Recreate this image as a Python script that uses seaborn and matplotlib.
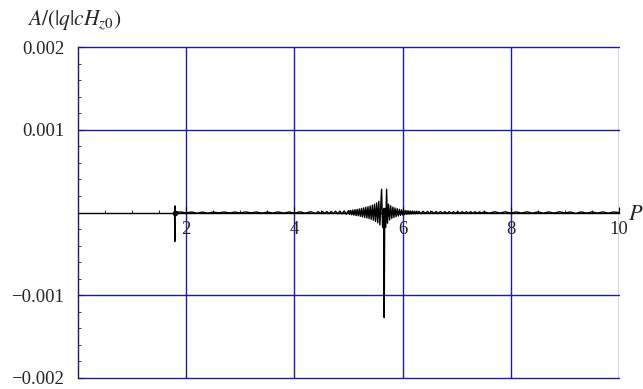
import numpy as np
import pandas as pd
import matplotlib
matplotlib.use("Agg")
import matplotlib.pyplot as plt
from matplotlib.ticker import MultipleLocator
import seaborn as sns

# ---- data (y values in units of 1e-4) ----
x_a = [1.785, 1.790, 1.792, 1.800, 1.9, 2.0, 2.1, 2.2, 2.3, 2.4, 2.5, 2.6, 2.7, 2.8,
       2.9, 3.0, 3.1, 3.2, 3.3, 3.4, 3.5, 3.6, 3.7, 3.8, 3.9, 4.0, 4.1, 4.2, 4.3, 4.4]
y_a = [0.0, -3.5, 0.8, 0.05, 0.06, -0.05, 0.06, -0.08, 0.05, -0.08, 0.05, -0.05, 0.06, -0.05,
       0.05, -0.06, 0.07, -0.05, 0.06, -0.07, 0.05, -0.06, 0.07, -0.07, 0.06, -0.08, 0.08, -0.08, 0.09, -0.10]

x_b = [4.44, 4.48, 4.52, 4.56, 4.60, 4.64, 4.68, 4.72, 4.76, 4.80, 4.84, 4.88, 4.92, 4.96, 5.00]
y_b = [0.10, -0.11, 0.11, -0.12, 0.12, -0.13, 0.13, -0.14, 0.15, -0.16, 0.17, -0.18, 0.19, -0.21, 0.22]

x_c = [5.02, 5.04, 5.06, 5.08, 5.10, 5.12, 5.14, 5.16, 5.18, 5.20, 5.22, 5.24, 5.26, 5.28, 5.30,
       5.32, 5.34, 5.36, 5.38, 5.40, 5.42, 5.44, 5.46, 5.48, 5.50, 5.52, 5.54, 5.56, 5.58]
y_c = [-0.24, 0.26, -0.28, 0.30, -0.32, 0.34, -0.36, 0.38, -0.40, 0.43, -0.46, 0.50, -0.53, 0.56, -0.60,
       0.63, -0.66, 0.70, -0.74, 0.78, -0.82, 0.88, -0.94, 1.00, -1.08, 1.16, -1.25, 1.35, -1.50]

x_d = [5.611, 5.630, 5.650, 5.660, 5.670, 5.688, 5.704, 5.720]
y_d = [2.8, -1.8, 0.5, -12.7, 0.5, -1.8, 2.8, -1.3]

x_e = [5.74, 5.76, 5.78, 5.80, 5.82, 5.84, 5.86, 5.88, 5.90, 5.92, 5.94, 5.96, 5.98, 6.00, 6.02,
       6.04, 6.06, 6.08, 6.10, 6.12, 6.14, 6.16, 6.18, 6.20, 6.22, 6.24, 6.26, 6.28, 6.30]
y_e = [1.0, -0.9, 0.8, -0.72, 0.65, -0.6, 0.55, -0.5, 0.46, -0.42, 0.38, -0.35, 0.33, -0.3, 0.28,
       -0.26, 0.24, -0.22, 0.21, -0.2, 0.19, -0.18, 0.17, -0.16, 0.16, -0.15, 0.15, -0.14, 0.14]

x_f = [6.34, 6.38, 6.42, 6.46, 6.50, 6.54, 6.58, 6.62, 6.66, 6.70, 6.74, 6.78, 6.82, 6.86, 6.90,
       6.94, 6.98, 7.02, 7.06, 7.10, 7.14, 7.18, 7.22, 7.26, 7.30, 7.34, 7.38, 7.42, 7.46, 7.50]
y_f = [-0.14, 0.14, -0.13, 0.13, -0.13, 0.13, -0.12, 0.12, -0.12, 0.12, -0.11, 0.11, -0.11, 0.11, -0.1,
       0.1, -0.1, 0.1, -0.1, 0.1, -0.09, 0.09, -0.09, 0.09, -0.09, 0.09, -0.08, 0.08, -0.08, 0.08]

x_g = [7.6, 7.7, 7.8, 7.9, 8.0, 8.1, 8.2, 8.3, 8.4, 8.5, 8.6, 8.7, 8.8, 8.9, 9.0,
       9.1, 9.2, 9.3, 9.4, 9.5, 9.6, 9.7, 9.8, 9.9, 10.0]
y_g = [-0.08, 0.08, -0.07, 0.08, -0.08, 0.07, -0.07, 0.08, -0.08, 0.07, -0.08, 0.07, -0.07, 0.08, -0.07,
       0.07, -0.12, 0.07, -0.07, 0.07, -0.07, 0.07, -0.07, 0.06, 0.0]

x_ticks = [2, 4, 6, 8, 10]
x_tick_labels = ["2", "4", "6", "8", "10"]
y_ticks = [-0.002, -0.001, 0.001, 0.002]
y_tick_labels = ["\u22120.002", "\u22120.001", "0.001", "0.002"]

UNIT = 1e-4
df = pd.DataFrame({
    "P": x_a + x_b + x_c + x_d + x_e + x_f + x_g,
    "A": [v * UNIT for v in (y_a + y_b + y_c + y_d + y_e + y_f + y_g)],
})

# ---- styling ----
sns.set_style("white")
plt.rcParams["font.family"] = ["Liberation Serif", "DejaVu Serif"]
plt.rcParams["mathtext.fontset"] = "stix"

grid_color = "#1c1c9c"

fig = plt.figure(figsize=(6.43, 3.89), dpi=100)
ax = fig.add_axes([78 / 643, 1 - 378 / 389, (619 - 78) / 643, (378 - 47) / 389])

sns.lineplot(data=df, x="P", y="A", sort=False, estimator=None, color="black",
             linewidth=1.0, ax=ax)
# small dot at the start of the trace
ax.plot([x_a[0]], [y_a[0] * UNIT], marker="o", markersize=3, color="black")

ax.set_xlim(0, 10)
ax.set_ylim(-0.002, 0.002)

ax.set_xticks(x_ticks)
ax.set_xticklabels(x_tick_labels)
ax.xaxis.set_minor_locator(MultipleLocator(0.5))
ax.set_yticks(y_ticks)
ax.set_yticklabels(y_tick_labels)
ax.yaxis.set_minor_locator(MultipleLocator(0.0002))

ax.grid(True, which="major", color=grid_color, linewidth=1.0)
for gl in ax.get_xgridlines() + ax.get_ygridlines():
    gl.set_clip_on(False)

for s in ["top", "right"]:
    ax.spines[s].set_visible(False)
ax.spines["left"].set_color("#1a1a5a")
ax.spines["left"].set_linewidth(1.0)
ax.spines["bottom"].set_position(("data", 0))
ax.spines["bottom"].set_color("black")
ax.spines["bottom"].set_linewidth(1.0)
ax.spines["bottom"].set_zorder(3)

ax.tick_params(axis="x", which="major", direction="in", length=4, width=0.8,
               color="black", labelsize=13.5, pad=6)
ax.tick_params(axis="x", which="minor", direction="in", length=2, width=0.6, color="black")
ax.tick_params(axis="y", which="major", direction="in", length=4, width=0.8,
               color="#1a1a5a", labelsize=13.5, pad=10)
ax.tick_params(axis="y", which="minor", direction="in", length=2, width=0.6, color="#1a1a5a")
ax.tick_params(left=True, bottom=True, which="both")

ax.set_xlabel("")
ax.set_ylabel("")

fig.text(27 / 643, 1 - 20 / 389, r"$A/(|q|cH_{z0})$", fontsize=15.5, ha="left", va="center")
fig.text(628 / 643, 1 - 215 / 389, r"$P$", fontsize=16, ha="left", va="center")

fig.savefig("out.png", dpi=100)
